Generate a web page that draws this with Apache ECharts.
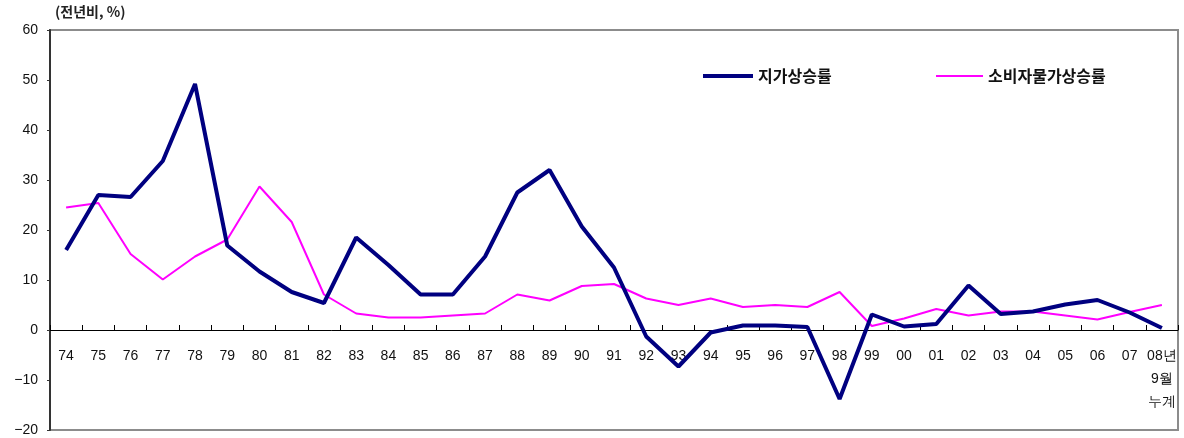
<!DOCTYPE html>
<html>
<head>
<meta charset="utf-8">
<script src="https://cdn.jsdelivr.net/npm/echarts@6/dist/echarts.min.js"></script>
<style>
html,body{margin:0;padding:0;background:#fff;}
#chart{width:1184px;height:438px;}
</style>
</head>
<body>
<div id="chart"></div>
<script>
const categories = ['74','75','76','77','78','79','80','81','82','83','84','85','86','87','88','89','90','91','92','93','94','95','96','97','98','99','00','01','02','03','04','05','06','07','08년\n9월\n누계'];
const landPrice = [16.0,27.0,26.6,33.8,49.2,16.9,11.7,7.6,5.4,18.5,13.0,7.1,7.1,14.7,27.5,32.0,20.7,12.5,-1.3,-7.3,-0.5,0.9,0.9,0.6,-13.8,3.1,0.7,1.2,8.9,3.2,3.7,5.1,6.0,3.5,0.4];
const cpi = [24.5,25.4,15.2,10.1,14.7,18.1,28.7,21.6,7.1,3.3,2.5,2.5,2.9,3.3,7.1,5.9,8.8,9.2,6.3,5.0,6.3,4.6,5.0,4.6,7.6,0.8,2.3,4.2,2.9,3.7,3.7,2.9,2.1,3.6,5.0];
const seriesNames = ['지가상승률','소비자물가상승률'];
const unitLabel = '(전년비, %)';

const chart = echarts.init(document.getElementById('chart'), null, {renderer:'canvas'});
const numFont = '"Liberation Sans", Arial, sans-serif';
const korFont = '"Noto Sans CJK KR", "Liberation Sans", sans-serif';
chart.setOption({
  animation: false,
  backgroundColor: '#fff',
  grid: {left: 50, right: 6, top: 30, bottom: 8, show: true, borderColor: '#8c8c8c', borderWidth: 2,
    backgroundColor: 'transparent', outerBoundsMode: 'none'},
  graphic: [{
    type: 'text', left: 55, top: 5,
    style: {text: unitLabel, font: 'bold 14px ' + korFont, fill: '#222'}
  }],
  legend: [{
    data: [{name: seriesNames[0], icon: 'rect'}], left: 698, top: 63, itemWidth: 50, itemHeight: 4, itemGap: 5,
    textStyle: {fontFamily: korFont, fontSize: 16, fontWeight: 'bold', color: '#111'}
  },{
    data: [{name: seriesNames[1], icon: 'rect'}], left: 931, top: 63, itemWidth: 47, itemHeight: 2, itemGap: 5,
    textStyle: {fontFamily: korFont, fontSize: 16, fontWeight: 'bold', color: '#111'}
  }],
  xAxis: [{
    type: 'category', data: categories, boundaryGap: true,
    axisLine: {onZero: true, lineStyle: {color: '#000', width: 1}},
    axisTick: {show: true, inside: true, length: 5, interval: 0, lineStyle: {color: '#000'}},
    axisLabel: {show: false}
  },{
    type: 'category', data: categories, boundaryGap: true, position: 'top',
    axisLine: {show: false, onZero: false}, axisTick: {show: false}, splitLine: {show: false},
    axisLabel: {show: true, inside: true, fontFamily: numFont, fontSize: 14, color: '#111',
      margin: 315, lineHeight: 23, interval: 0, verticalAlign: 'top'}
  }],
  yAxis: {
    type: 'value', min: -20, max: 60, interval: 10,
    axisLine: {show: true, onZero: false, lineStyle: {color: '#333', width: 2}},
    axisTick: {show: true, length: 3, lineStyle: {color: '#333'}},
    splitLine: {show: false},
    axisLabel: {fontFamily: numFont, fontSize: 14, color: '#111', margin: 12,
      formatter: v => String(v).replace('-', '\u2212')}
  },
  series: [{
    name: seriesNames[0], type: 'line', data: landPrice, symbol: 'none',
    lineStyle: {color: '#000080', width: 4}, itemStyle: {color: '#000080'}, z: 3
  },{
    name: seriesNames[1], type: 'line', data: cpi, symbol: 'none',
    lineStyle: {color: '#ff00ff', width: 2}, itemStyle: {color: '#ff00ff'}, z: 2
  }]
});
</script>
</body>
</html>
